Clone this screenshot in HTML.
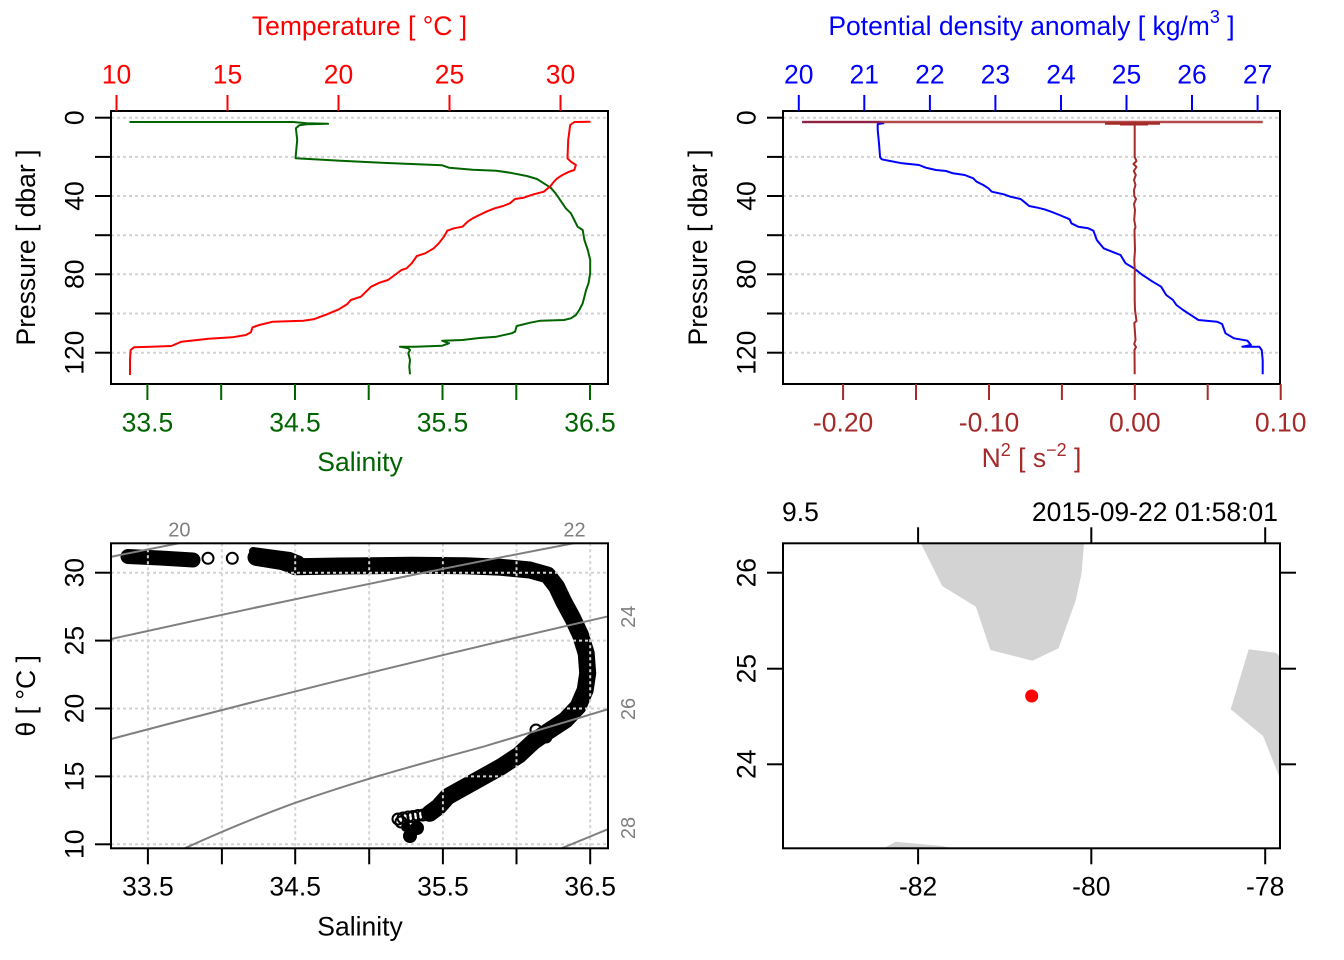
<!DOCTYPE html>
<html><head><meta charset="utf-8"><style>
html,body{margin:0;padding:0;background:#fff}
svg{display:block}
text{font-family:"Liberation Sans",Arial,sans-serif;font-size:26.5px}
</style></head><body>
<svg width="1344" height="960" viewBox="0 0 1344 960" xmlns="http://www.w3.org/2000/svg">
<defs>
<clipPath id="c1"><rect x="111" y="111" width="497" height="273"/></clipPath>
<clipPath id="c2"><rect x="783" y="111" width="497" height="273"/></clipPath>
<clipPath id="c3"><rect x="111" y="543.3" width="497" height="305"/></clipPath>
<clipPath id="c4"><rect x="783" y="543.3" width="497" height="305"/></clipPath>
</defs>
<rect width="1344" height="960" fill="#fff"/>

<!-- ================= PANEL 1 ================= -->
<g stroke="#d3d3d3" stroke-width="2" stroke-dasharray="3 3" fill="none">
<line x1="111" x2="608" y1="117.7" y2="117.7"/><line x1="111" x2="608" y1="156.9" y2="156.9"/>
<line x1="111" x2="608" y1="196" y2="196"/><line x1="111" x2="608" y1="235.2" y2="235.2"/>
<line x1="111" x2="608" y1="274.3" y2="274.3"/><line x1="111" x2="608" y1="313.5" y2="313.5"/>
<line x1="111" x2="608" y1="352.7" y2="352.7"/>
</g>
<g clip-path="url(#c1)" fill="none" stroke-width="2" stroke-linejoin="round">
<polyline stroke="#006400" points="129.6,122 293.2,122 306.7,123.3 328.1,123.7 306.7,124.3 299.3,125.3 295.9,128.3 297.2,140 295.6,157.3 295.6,158.3 340.6,160.7 371.1,162.3 442.2,165.3 449,167.7 472.7,169.7 496.4,170.7 509.9,172.7 526.8,176 537,179 543.8,183.3 550.6,187.7 555.6,193.3 559,198.3 562.4,203.3 565.8,208.3 570.9,213.3 574.3,220 577.6,226.7 582.7,230 584.4,240 587.8,250 590.2,260 590.2,273.3 588.5,283.3 586.1,290 584.4,296.7 582.7,303.3 579.3,310 575.9,315 570.9,318.3 564.1,320 540.4,320.7 530.2,322.7 516.7,326 515,331.7 511.6,333.3 496.4,336.7 479.4,338 462.5,340 442.2,340.7 449,343.3 442.2,345.7 415.1,346.7 399.9,346.7 408.3,348.3 410,350 408.3,353.3 410,360 409.3,366.7 410,374.3"/>
<polyline stroke="#ff0000" points="590.5,121.7 574.3,122 570.2,125 568.2,140 567.5,158.3 570.9,161.7 575.9,165 574.3,170 569.2,171.7 562.4,175 557.3,178.3 553.9,181.7 550.6,186 543.8,191.7 533.6,194.3 523.5,197.7 515,199 509.9,203.3 503.1,206 494.7,208.3 486.2,211.7 479.4,215 472.7,218.3 467.6,221.7 462.5,226.7 454,228.3 447.3,230.7 443.9,236.7 438.8,243.3 433.7,248.3 425.3,253.3 416.8,256 411.7,263.3 406.6,268.3 401.5,270 394.8,275 388,280 379.5,282.7 371.1,286.7 366,291.7 360.9,296.7 350.8,300 347.4,304 338.9,309.3 327,314.3 313.5,319.3 303.3,320.7 272.9,321.7 259.3,325 252.5,327.3 250.9,332.3 245.8,335 232.2,337.3 208.5,338.7 181.4,341.7 171.3,346 151,346.7 134,347.3 130.6,350 130,360 130,375"/>
</g>
<rect x="111" y="111" width="497" height="273" fill="none" stroke="#000" stroke-width="2"/>
<g stroke="#000" stroke-width="2">
<line x1="95" x2="111" y1="117.7" y2="117.7"/><line x1="95" x2="111" y1="156.9" y2="156.9"/>
<line x1="95" x2="111" y1="196" y2="196"/><line x1="95" x2="111" y1="235.2" y2="235.2"/>
<line x1="95" x2="111" y1="274.3" y2="274.3"/><line x1="95" x2="111" y1="313.5" y2="313.5"/>
<line x1="95" x2="111" y1="352.7" y2="352.7"/>
</g>
<g stroke="#ff0000" stroke-width="2">
<line x1="116.5" x2="116.5" y1="95" y2="111"/><line x1="227.5" x2="227.5" y1="95" y2="111"/>
<line x1="338.5" x2="338.5" y1="95" y2="111"/><line x1="449.5" x2="449.5" y1="95" y2="111"/>
<line x1="560.5" x2="560.5" y1="95" y2="111"/>
</g>
<g stroke="#006400" stroke-width="2">
<line x1="147.4" x2="147.4" y1="384" y2="400"/><line x1="221.2" x2="221.2" y1="384" y2="400"/>
<line x1="295" x2="295" y1="384" y2="400"/><line x1="368.7" x2="368.7" y1="384" y2="400"/>
<line x1="442.5" x2="442.5" y1="384" y2="400"/><line x1="516.3" x2="516.3" y1="384" y2="400"/>
<line x1="590" x2="590" y1="384" y2="400"/>
</g>
<g fill="#ff0000" text-anchor="middle">
<text x="359.5" y="35">Temperature [ °C ]</text>
<text x="116.5" y="83.3">10</text><text x="227.5" y="83.3">15</text><text x="338.5" y="83.3">20</text>
<text x="449.5" y="83.3">25</text><text x="560.5" y="83.3">30</text>
</g>
<g fill="#006400" text-anchor="middle">
<text x="147.4" y="431.7">33.5</text><text x="295" y="431.7">34.5</text>
<text x="442.5" y="431.7">35.5</text><text x="590" y="431.7">36.5</text>
<text x="360" y="471">Salinity</text>
</g>
<g fill="#000" text-anchor="middle">
<text transform="translate(83.3,117.7) rotate(-90)">0</text>
<text transform="translate(83.3,196) rotate(-90)">40</text>
<text transform="translate(83.3,274.3) rotate(-90)">80</text>
<text transform="translate(83.3,352.7) rotate(-90)">120</text>
<text transform="translate(35,247.5) rotate(-90)">Pressure [ dbar ]</text>
</g>

<!-- ================= PANEL 2 ================= -->
<g stroke="#d3d3d3" stroke-width="2" stroke-dasharray="3 3" fill="none">
<line x1="783" x2="1280" y1="117.7" y2="117.7"/><line x1="783" x2="1280" y1="156.9" y2="156.9"/>
<line x1="783" x2="1280" y1="196" y2="196"/><line x1="783" x2="1280" y1="235.2" y2="235.2"/>
<line x1="783" x2="1280" y1="274.3" y2="274.3"/><line x1="783" x2="1280" y1="313.5" y2="313.5"/>
<line x1="783" x2="1280" y1="352.7" y2="352.7"/>
</g>
<g clip-path="url(#c2)" fill="none" stroke-width="2" stroke-linejoin="round">
<polyline stroke="#0000ff" points="802.2,122 878.4,122 883.4,123.3 877.7,124 877.7,130 879,143.3 880.1,157.3 881.7,159.3 890.2,161 902.1,163.3 919,165 925.8,167.7 935.9,170 946.1,171 952.9,173.3 964.7,175 973.2,178.3 976.6,181.7 983.3,185 988.4,188.3 991.8,191.7 1003.7,194.3 1010.4,196.7 1020.6,199 1024,201.7 1029.1,206 1037.5,207.7 1044.3,209.3 1051.1,211.7 1059.5,215 1069.7,219.3 1071.4,223.3 1078.2,226.7 1088.3,228.3 1093.4,230.7 1096.8,240 1103.6,248.3 1112,251.7 1120.5,255 1125.6,263.3 1134,268.3 1142.5,275 1152.7,281.7 1161.1,286.7 1166.2,295 1173,300 1176.4,305 1183.1,310 1193.3,316.7 1198.4,320 1217,321.7 1222.1,324 1225.5,333.3 1234,338.3 1247.5,340.7 1250.9,345 1242.4,346.7 1259.3,346.7 1261.7,350 1262.7,360 1262.7,374.3"/>
<polyline stroke="#a52a2a" stroke-opacity="0.85" stroke-width="2.5" points="802.2,122 1262.7,122"/>
<path stroke="#a52a2a" stroke-width="2.5" d="M1105,123.5 L1160,123.5 M1120,124.3 L1148,124.3"/>
<polyline stroke="#a52a2a" points="1134.7,122 1134.7,157 1136.5,161 1133.5,164 1136.5,167 1133.8,171 1135.8,175 1134,180 1135.5,185 1134,190 1134.3,196 1136,199 1134,204 1135,210 1134.2,220 1135.5,227 1134.5,230 1134.7,240 1135,250 1134.3,260 1134.8,270 1134.6,280 1134.7,290 1134.7,300 1135,310 1136.5,321 1134.3,323 1134.8,330 1135.5,340 1134.2,344 1136,347 1134.5,350 1134.7,374.3"/>
</g>
<rect x="783" y="111" width="497" height="273" fill="none" stroke="#000" stroke-width="2"/>
<g stroke="#000" stroke-width="2">
<line x1="767" x2="783" y1="117.7" y2="117.7"/><line x1="767" x2="783" y1="156.9" y2="156.9"/>
<line x1="767" x2="783" y1="196" y2="196"/><line x1="767" x2="783" y1="235.2" y2="235.2"/>
<line x1="767" x2="783" y1="274.3" y2="274.3"/><line x1="767" x2="783" y1="313.5" y2="313.5"/>
<line x1="767" x2="783" y1="352.7" y2="352.7"/>
</g>
<g stroke="#0000ff" stroke-width="2">
<line x1="798.8" x2="798.8" y1="95" y2="111"/><line x1="864.3" x2="864.3" y1="95" y2="111"/>
<line x1="929.9" x2="929.9" y1="95" y2="111"/><line x1="995.4" x2="995.4" y1="95" y2="111"/>
<line x1="1061" x2="1061" y1="95" y2="111"/><line x1="1126.5" x2="1126.5" y1="95" y2="111"/>
<line x1="1192" x2="1192" y1="95" y2="111"/><line x1="1257.6" x2="1257.6" y1="95" y2="111"/>
</g>
<g stroke="#a52a2a" stroke-width="2">
<line x1="843.1" x2="843.1" y1="384" y2="400"/><line x1="916" x2="916" y1="384" y2="400"/>
<line x1="989" x2="989" y1="384" y2="400"/><line x1="1061.9" x2="1061.9" y1="384" y2="400"/>
<line x1="1134.8" x2="1134.8" y1="384" y2="400"/><line x1="1207.7" x2="1207.7" y1="384" y2="400"/>
<line x1="1280.7" x2="1280.7" y1="384" y2="400"/>
</g>
<g fill="#0000ff" text-anchor="middle">
<text x="1031.5" y="35">Potential density anomaly [ kg/m<tspan font-size="18" dy="-12">3</tspan><tspan dy="12"> ]</tspan></text>
<text x="798.8" y="83.3">20</text><text x="864.3" y="83.3">21</text><text x="929.9" y="83.3">22</text>
<text x="995.4" y="83.3">23</text><text x="1061" y="83.3">24</text><text x="1126.5" y="83.3">25</text>
<text x="1192" y="83.3">26</text><text x="1257.6" y="83.3">27</text>
</g>
<g fill="#a52a2a" text-anchor="middle">
<text x="843.1" y="431.7">-0.20</text><text x="989" y="431.7">-0.10</text>
<text x="1134.8" y="431.7">0.00</text><text x="1280.7" y="431.7">0.10</text>
<text x="1031.5" y="467">N<tspan font-size="18" dy="-11">2</tspan><tspan dy="11"> [ s</tspan><tspan font-size="18" dy="-11">−2</tspan><tspan dy="11"> ]</tspan></text>
</g>
<g fill="#000" text-anchor="middle">
<text transform="translate(755.3,117.7) rotate(-90)">0</text>
<text transform="translate(755.3,196) rotate(-90)">40</text>
<text transform="translate(755.3,274.3) rotate(-90)">80</text>
<text transform="translate(755.3,352.7) rotate(-90)">120</text>
<text transform="translate(707,247.5) rotate(-90)">Pressure [ dbar ]</text>
</g>

<!-- ================= PANEL 3 (TS) ================= -->
<g clip-path="url(#c3)">
<g fill="none" stroke="#000" stroke-linecap="round" stroke-linejoin="round">
<polyline stroke-width="15" points="128,556.5 160,558 193,560"/>
<polyline stroke-width="17" points="256,557.3 283.1,561.7 295.6,566.7 340.3,566 411.8,565.3 465.4,565.7 501.2,567.3 529.8,570 547.6,575 556.6,586.7 563.7,601.7 572.7,618.3 580.5,635 586.2,653.3 587.7,673.3 585.2,690 578,706.7 565.5,720 547.6,731.7 533.3,741.7 519,755 501.2,766.7 483.3,776.7 465.4,786.7 447.5,796.7 438.6,806.7 429.7,813.3"/>
<polyline stroke-width="8" points="253,551 290,556 300,560"/>
<polyline stroke-width="8" points="583,640 591,660 591,680"/>
</g>
<g fill="none" stroke="#000" stroke-width="2">
<circle cx="208" cy="558.3" r="5.5"/><circle cx="232.3" cy="558.3" r="5.5"/>
<circle cx="398" cy="819" r="5.5"/><circle cx="403" cy="818" r="5.5"/><circle cx="408" cy="817" r="5.5"/>
<circle cx="413" cy="816.5" r="5.5"/><circle cx="418" cy="815.5" r="5.5"/><circle cx="423" cy="815" r="5.5"/>
<circle cx="401" cy="822" r="5.5"/><circle cx="536" cy="730" r="5.5"/><circle cx="546" cy="737" r="5.5"/>
</g>
<g fill="#000">
<circle cx="410" cy="836" r="7"/><circle cx="417" cy="828" r="7"/><circle cx="406" cy="827" r="5"/>
</g>
<g stroke="#d3d3d3" stroke-width="2" stroke-dasharray="3 3" fill="none">
<line x1="147.9" x2="147.9" y1="543.3" y2="848.3"/><line x1="221.9" x2="221.9" y1="543.3" y2="848.3"/>
<line x1="295.2" x2="295.2" y1="543.3" y2="848.3"/><line x1="369.2" x2="369.2" y1="543.3" y2="848.3"/>
<line x1="442.9" x2="442.9" y1="543.3" y2="848.3"/><line x1="516.5" x2="516.5" y1="543.3" y2="848.3"/>
<line x1="590.2" x2="590.2" y1="543.3" y2="848.3"/>
<line x1="111" x2="608" y1="572.7" y2="572.7"/><line x1="111" x2="608" y1="640.6" y2="640.6"/>
<line x1="111" x2="608" y1="708.5" y2="708.5"/><line x1="111" x2="608" y1="776.4" y2="776.4"/>
<line x1="111" x2="608" y1="844.3" y2="844.3"/>
</g>
<g stroke="#7f7f7f" stroke-width="2" fill="none">
<path d="M100,559 L180,543"/>
<path d="M100,641.5 Q340,588 575,543"/>
<path d="M100,742 Q355,674 612,615.5"/>
<path d="M184.7,848.3 Q240,823 293.8,803.3 Q335,789 376,776.7 Q430,761 483.3,746.7 Q545,728 612,708"/>
<path d="M555,851 L612,827.5"/>
</g>
</g>
<rect x="111" y="543.3" width="497" height="305" fill="none" stroke="#000" stroke-width="2"/>
<g stroke="#000" stroke-width="2">
<line x1="95" x2="111" y1="572.7" y2="572.7"/><line x1="95" x2="111" y1="640.6" y2="640.6"/>
<line x1="95" x2="111" y1="708.5" y2="708.5"/><line x1="95" x2="111" y1="776.4" y2="776.4"/>
<line x1="95" x2="111" y1="844.3" y2="844.3"/>
<line x1="147.9" x2="147.9" y1="848.3" y2="864.3"/><line x1="221.9" x2="221.9" y1="848.3" y2="864.3"/>
<line x1="295.2" x2="295.2" y1="848.3" y2="864.3"/><line x1="369.2" x2="369.2" y1="848.3" y2="864.3"/>
<line x1="442.9" x2="442.9" y1="848.3" y2="864.3"/><line x1="516.5" x2="516.5" y1="848.3" y2="864.3"/>
<line x1="590.2" x2="590.2" y1="848.3" y2="864.3"/>
</g>
<g fill="#000" text-anchor="middle">
<text x="147.9" y="895.7">33.5</text><text x="295.2" y="895.7">34.5</text>
<text x="442.9" y="895.7">35.5</text><text x="590.2" y="895.7">36.5</text>
<text x="360" y="935.3">Salinity</text>
<text transform="translate(83.3,572.7) rotate(-90)">30</text>
<text transform="translate(83.3,640.6) rotate(-90)">25</text>
<text transform="translate(83.3,708.5) rotate(-90)">20</text>
<text transform="translate(83.3,776.4) rotate(-90)">15</text>
<text transform="translate(83.3,844.3) rotate(-90)">10</text>
<text transform="translate(35,695.8) rotate(-90)">θ [ °C ]</text>
</g>
<g fill="#7f7f7f" text-anchor="middle">
<text x="179.4" y="536.7" style="font-size:20px">20</text>
<text x="574.5" y="536.7" style="font-size:20px">22</text>
<text transform="translate(635,616.7) rotate(-90)" style="font-size:20px">24</text>
<text transform="translate(635,709) rotate(-90)" style="font-size:20px">26</text>
<text transform="translate(635,828) rotate(-90)" style="font-size:20px">28</text>
</g>

<!-- ================= PANEL 4 (map) ================= -->
<g clip-path="url(#c4)" fill="#d3d3d3" stroke="none">
<polygon points="920.8,543.3 942.2,586 975.9,606.7 990.4,650 1032.4,660.7 1058.6,648.3 1075.8,600 1081.6,573.3 1084,543.3"/>
<polygon points="1248.7,649.3 1275.5,652.7 1280,656 1280,776.7 1279.3,776.7 1263.1,736 1230.7,709.3"/>
<polygon points="883.6,848.3 895.7,841.7 942.2,846 952.5,848.3"/>
</g>
<circle cx="1031.7" cy="696" r="6.5" fill="#ff0000"/>
<rect x="783" y="543.3" width="497" height="305" fill="none" stroke="#000" stroke-width="2"/>
<g stroke="#000" stroke-width="2">
<line x1="918.1" x2="918.1" y1="527.3" y2="543.3"/><line x1="1091.3" x2="1091.3" y1="527.3" y2="543.3"/>
<line x1="1265.2" x2="1265.2" y1="527.3" y2="543.3"/>
<line x1="918.1" x2="918.1" y1="848.3" y2="864.3"/><line x1="1091.3" x2="1091.3" y1="848.3" y2="864.3"/>
<line x1="1265.2" x2="1265.2" y1="848.3" y2="864.3"/>
<line x1="767" x2="783" y1="572.7" y2="572.7"/><line x1="767" x2="783" y1="668.7" y2="668.7"/>
<line x1="767" x2="783" y1="764.3" y2="764.3"/>
<line x1="1280" x2="1296" y1="572.7" y2="572.7"/><line x1="1280" x2="1296" y1="668.7" y2="668.7"/>
<line x1="1280" x2="1296" y1="764.3" y2="764.3"/>
</g>
<g fill="#000" text-anchor="middle">
<text x="918.1" y="895.7">-82</text><text x="1091.3" y="895.7">-80</text><text x="1265.2" y="895.7">-78</text>
<text transform="translate(755.3,572.7) rotate(-90)">26</text>
<text transform="translate(755.3,668.7) rotate(-90)">25</text>
<text transform="translate(755.3,764.3) rotate(-90)">24</text>
<text x="782" y="521" text-anchor="start">9.5</text>
<text x="1278" y="521" text-anchor="end">2015-09-22 01:58:01</text>
</g>
</svg>
</body></html>
